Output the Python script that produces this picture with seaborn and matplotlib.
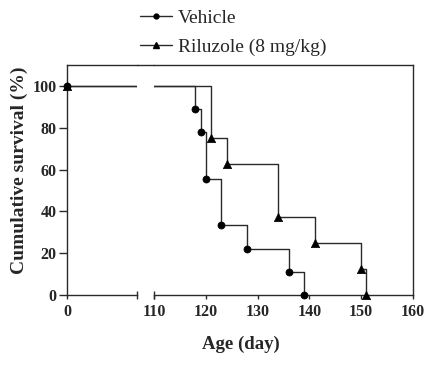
import pandas as pd
import matplotlib
matplotlib.use("Agg")
import matplotlib.pyplot as plt
from matplotlib.lines import Line2D
import seaborn as sns

# Kaplan-Meier steps
vehicle_day = [0, 118, 119, 120, 123, 128, 136, 139]
vehicle_surv = [100, 88.9, 77.8, 55.6, 33.3, 22.2, 11.1, 0]
riluzole_day = [0, 121, 124, 134, 141, 150, 151]
riluzole_surv = [100, 75, 62.5, 37.5, 25, 12.5, 0]

groups = ["Vehicle", "Riluzole (8 mg/kg)"]
y_ticks = [0, 20, 40, 60, 80, 100]
x_ticks_right = [110, 120, 130, 140, 150, 160]

df = pd.concat([
    pd.DataFrame({"day": vehicle_day, "surv": vehicle_surv, "group": groups[0]}),
    pd.DataFrame({"day": riluzole_day, "surv": riluzole_surv, "group": groups[1]}),
])

sns.set_style("ticks")
plt.rcParams["font.family"] = ["Liberation Serif", "DejaVu Serif"]

LINE = "#2a2a2a"
W, H = 443, 368
TICK_FS = 11.5

fig = plt.figure(figsize=(W / 100, H / 100), dpi=100)

bottom = (H - 295) / H
height = (295 - 65) / H
ax_l = fig.add_axes([67 / W, bottom, 70 / W, height])
ax_r = fig.add_axes([154 / W, bottom, 259 / W, height])

markers = {groups[0]: ("o", 26), groups[1]: ("^", 36)}

for ax, (lo, hi) in [(ax_l, (0, 10)), (ax_r, (110, 160))]:
    sns.lineplot(
        data=df, x="day", y="surv", hue="group",
        palette=[LINE, LINE], estimator=None,
        drawstyle="steps-post", linewidth=1.0,
        legend=False, ax=ax
    )
    for g in groups:
        sub = df[(df["group"] == g) & (df["day"] >= lo) & (df["day"] <= hi)]
        m, s = markers[g]
        sns.scatterplot(
            data=sub, x="day", y="surv", marker=m, s=s,
            color="black", edgecolor="black", linewidth=0.5,
            clip_on=False, legend=False, ax=ax, zorder=5
        )
    ax.set_xlim(lo, hi)
    ax.set_ylim(0, 110)
    ax.set_xlabel("")
    ax.set_ylabel("")
    for sp in ax.spines.values():
        sp.set_color(LINE)
        sp.set_linewidth(1.0)
    ax.tick_params(axis="x", length=3, width=1, color=LINE, pad=3.5)

# left segment
ax_l.set_xticks([0])
ax_l.set_xticklabels(["0"], fontweight="bold", fontsize=TICK_FS)
ax_l.set_yticks(y_ticks)
ax_l.set_yticklabels([str(v) for v in y_ticks], fontweight="bold", fontsize=TICK_FS)
ax_l.tick_params(axis="y", length=5.5, width=1, color=LINE, pad=2)
ax_l.spines["right"].set_visible(False)
ax_l.plot([1], [0], marker="|", ms=6, mew=1, color=LINE,
          transform=ax_l.transAxes, clip_on=False)

# right segment
ax_r.set_xticks(x_ticks_right)
ax_r.set_xticklabels([str(v) for v in x_ticks_right], fontweight="bold", fontsize=TICK_FS)
ax_r.set_yticks([])
ax_r.spines["left"].set_visible(False)
ax_r.spines["right"].set_visible(True)
ax_r.spines["top"].set_visible(True)
ax_r.plot([0], [0], marker="|", ms=6, mew=1, color=LINE,
          transform=ax_r.transAxes, clip_on=False)

# continuous top border across the break
top_y = (H - 65) / H
fig.add_artist(Line2D([137 / W, 154 / W], [top_y, top_y], color=LINE, lw=1.0))

fig.text(19 / W, 1 - 170 / H, "Cumulative survival (%)", rotation=90,
         ha="center", va="center", fontsize=14, fontweight="bold")
fig.text(241 / W, 1 - 344 / H, "Age (day)", ha="center", va="center",
         fontsize=13.5, fontweight="bold")

handles = [
    Line2D([], [], color=LINE, lw=1.0, marker="o", ms=3.5, mfc="black", mec="black"),
    Line2D([], [], color=LINE, lw=1.0, marker="^", ms=4, mfc="black", mec="black"),
]
fig.legend(handles, groups, loc="upper left", bbox_to_anchor=(140 / W, 1 - 9 / H),
           frameon=False, fontsize=14, handlelength=1.65, handletextpad=0.3,
           labelspacing=0.62, borderpad=0, borderaxespad=0)

fig.savefig("out.png", dpi=100)
